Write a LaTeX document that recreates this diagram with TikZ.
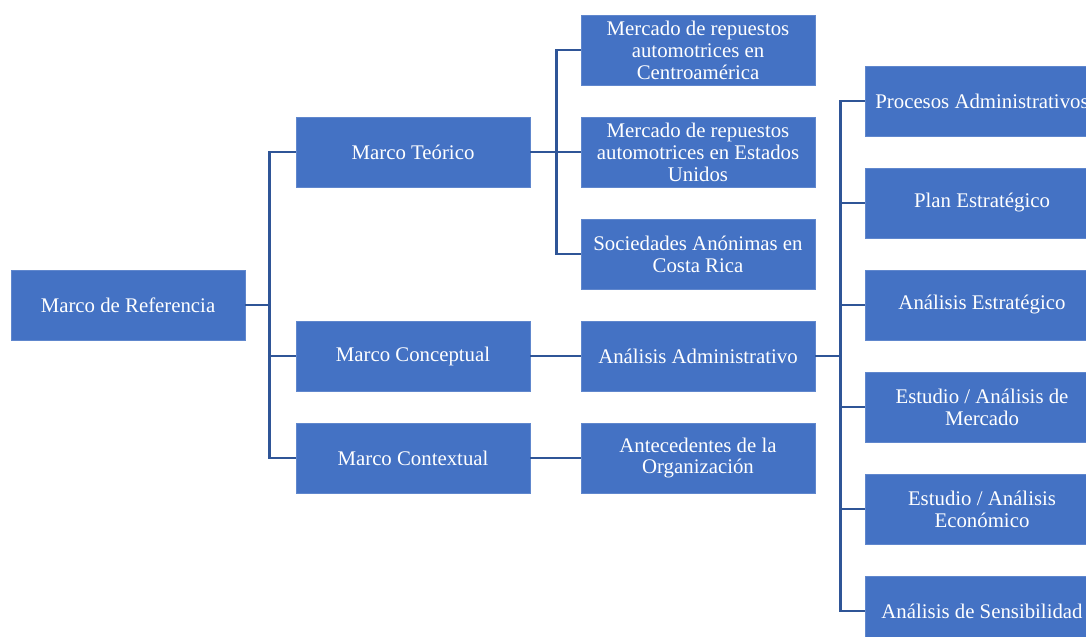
\documentclass[tikz,border=0pt]{standalone}
\usepackage{fontspec}
\setmainfont{Liberation Serif}
\definecolor{boxblue}{HTML}{4472C4}
\definecolor{lineblue}{HTML}{2F5597}
\tikzset{
  box/.style={fill=boxblue, draw=boxblue!85!white, text=white, align=center,
    minimum width=5.85cm, minimum height=1.75cm, inner sep=0pt,
    font=\fontsize{14.8}{15.6}\selectfont},
  link/.style={draw=lineblue, line width=1.8pt}
}
\begin{document}
\begin{tikzpicture}[x=0.025cm, y=-0.025cm]
  \useasboundingbox (0,0) rectangle (1086,637);
  % columns
  \node[box] (ref) at (128,305) {Marco de Referencia};
  \node[box] (teo) at (413,152) {Marco Teórico};
  \node[box] (con) at (413,356) {Marco Conceptual};
  \node[box] (ctx) at (413,458) {Marco Contextual};
  \node[box] (cam) at (698,50) {Mercado de repuestos\\automotrices en\\Centroamérica};
  \node[box] (usa) at (698,152) {Mercado de repuestos\\automotrices en Estados\\Unidos};
  \node[box] (soc) at (698,254) {Sociedades Anónimas en\\Costa Rica};
  \node[box] (adm) at (698,356) {Análisis Administrativo};
  \node[box] (ant) at (698,458) {Antecedentes de la\\Organización};
  \foreach \n/\y/\t in {p1/101/Procesos Administrativos, p2/203/Plan Estratégico,
      p3/305/Análisis Estratégico, p4/407/{Estudio / Análisis de\\Mercado},
      p5/509/{Estudio / Análisis\\Económico}, p6/611/Análisis de Sensibilidad}
    \node[box] (\n) at (982,\y) {\t};
  % connectors
  \draw[link] (ref.east) -- ++(24,0) coordinate (r1);
  \foreach \n in {teo,con,ctx} \draw[link] (r1) |- (\n.west);
  \draw[link] (teo.east) -- ++(26,0) coordinate (t1);
  \foreach \n in {cam,usa,soc} \draw[link] (t1) |- (\n.west);
  \draw[link] (con) -- (adm) (ctx) -- (ant);
  \draw[link] (adm.east) -- ++(25,0) coordinate (a1);
  \foreach \n in {p1,p2,p3,p4,p5,p6} \draw[link] (a1) |- (\n.west);
\end{tikzpicture}
\end{document}
